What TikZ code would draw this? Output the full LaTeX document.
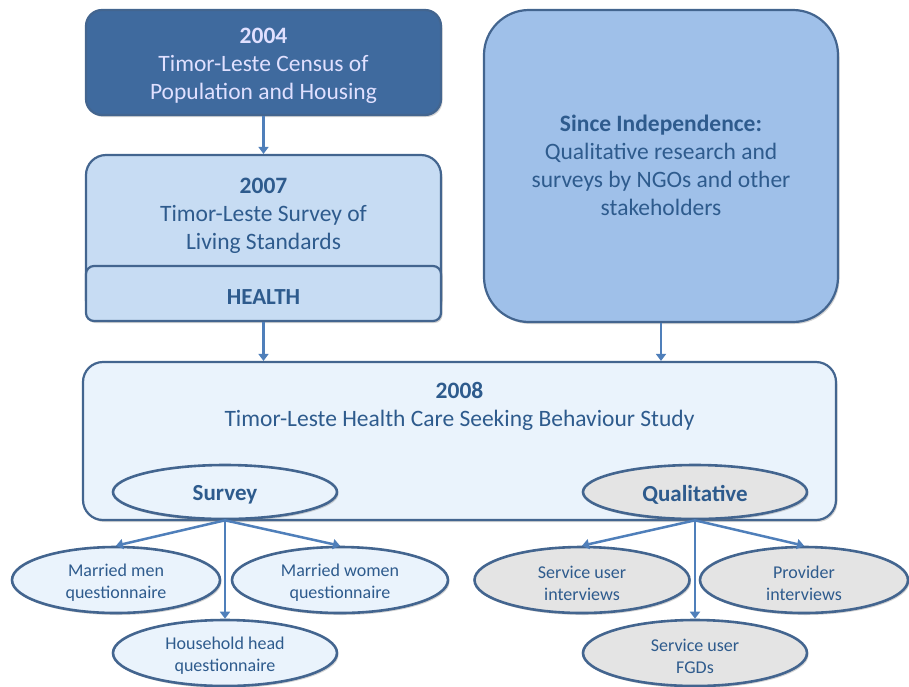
\documentclass[tikz,border=0pt]{standalone}
\usepackage{fontspec}
\setmainfont{Carlito}
\usetikzlibrary{shapes.geometric,arrows.meta,shadows}
\definecolor{txt}{HTML}{2E5B8D}
\definecolor{edge}{HTML}{43658F}
\definecolor{arr}{HTML}{4F7FBA}
\definecolor{darkfill}{HTML}{3F6A9E}
\definecolor{midfill}{HTML}{C7DCF3}
\definecolor{sincefill}{HTML}{9FC0E9}
\definecolor{lightfill}{HTML}{EAF3FC}
\definecolor{grayfill}{HTML}{E4E4E4}
\tikzset{
  boxbase/.style={draw=edge, line width=2.2pt, rectangle, inner sep=0pt,
    drop shadow={shadow xshift=1.5pt, shadow yshift=-2pt, opacity=0.35}},
  bigtext/.style={text=txt, align=center, font=\fontsize{23.5}{28}\selectfont, inner sep=0pt},
  ell/.style={draw=edge, line width=2.6pt, ellipse, inner sep=0pt,
    drop shadow={shadow xshift=1.5pt, shadow yshift=-2pt, opacity=0.35}},
  smalltext/.style={text=txt, align=center, font=\fontsize{18}{22}\selectfont, inner sep=0pt, yshift=-3pt},
  headtext/.style={text=txt, align=center, font=\fontsize{23}{24}\selectfont\bfseries, inner sep=0pt, yshift=-2.5pt},
  conn/.style={draw=arr, line width=2.5pt, -{Triangle[width=10pt,length=7pt]}}
}
\begin{document}
\begin{tikzpicture}[x=1pt,y=-1pt]
\useasboundingbox (0,0) rectangle (909,686);
% top boxes
\node[boxbase, fill=darkfill, minimum width=355pt, minimum height=105pt, rounded corners=16pt] (c2004) at (263.5,62.5) {};
\node[bigtext, text=white!88!blue] (t2004) at (263.5,66)
      {\textbf{2004}\\Timor-Leste Census of\\Population and Housing};
\node[boxbase, fill=midfill, minimum width=355pt, minimum height=165pt, rounded corners=20pt] (c2007) at (263.5,237.5) {};
\node[bigtext] (t2007) at (263.5,216) {\textbf{2007}\\Timor-Leste Survey of\\Living Standards};
\node[boxbase, fill=midfill, minimum width=355pt, minimum height=55pt, rounded corners=8pt] (health) at (263.5,293.5) {};
\node[bigtext, font=\fontsize{23}{28}\selectfont\bfseries] (thealth) at (263.5,297.5) {HEALTH};
\node[boxbase, fill=sincefill, minimum width=354pt, minimum height=312pt, rounded corners=45pt] (since) at (661,166) {};
\node[bigtext] (tsince) at (661,165) {\textbf{Since Independence:}\\Qualitative research and\\surveys by NGOs and other\\stakeholders};
% 2008 box
\node[boxbase, fill=lightfill, minimum width=753pt, minimum height=158pt, rounded corners=20pt] (c2008) at (459.5,441) {};
\node[bigtext] (t2008) at (459.5,406) {\textbf{2008}\\Timor-Leste Health Care Seeking Behaviour Study};
% main ellipses
\node[ell, fill=lightfill, minimum width=224pt, minimum height=54pt, label={[headtext]center:Survey}] (survey) at (225,492) {};
\node[ell, fill=grayfill, minimum width=224pt, minimum height=54pt, label={[headtext]center:Qualitative}] (qual) at (695,492) {};
% sub ellipses
\node[ell, fill=lightfill, minimum width=208pt, minimum height=66pt, label={[smalltext]center:Married men\\questionnaire}] (men) at (116,580) {};
\node[ell, fill=lightfill, minimum width=216pt, minimum height=66pt, label={[smalltext]center:Married women\\questionnaire}] (women) at (340,580) {};
\node[ell, fill=lightfill, minimum width=224pt, minimum height=66pt, label={[smalltext]center:Household head\\questionnaire}] (hh) at (225,653) {};
\node[ell, fill=grayfill, minimum width=215pt, minimum height=66pt, label={[smalltext]center:Service user\\interviews}] (sui) at (582,580) {};
\node[ell, fill=grayfill, minimum width=208pt, minimum height=66pt, label={[smalltext]center:Provider\\interviews}] (prov) at (804,580) {};
\node[ell, fill=grayfill, minimum width=224pt, minimum height=66pt, label={[smalltext]center:Service user\\FGDs}] (fgd) at (695,653) {};
% connectors
\draw[conn] (c2004.south) -- (c2007.north);
\draw[conn] (health.south) -- (health.south |- c2008.north);
\draw[conn] (since.south) -- (since.south |- c2008.north);
\draw[conn] (survey.south) -- (men.north);
\draw[conn] (survey.south) -- (women.north);
\draw[conn] (survey.south) -- (hh.north);
\draw[conn] (qual.south) -- (sui.north);
\draw[conn] (qual.south) -- (prov.north);
\draw[conn] (qual.south) -- (fgd.north);
\end{tikzpicture}
\end{document}
